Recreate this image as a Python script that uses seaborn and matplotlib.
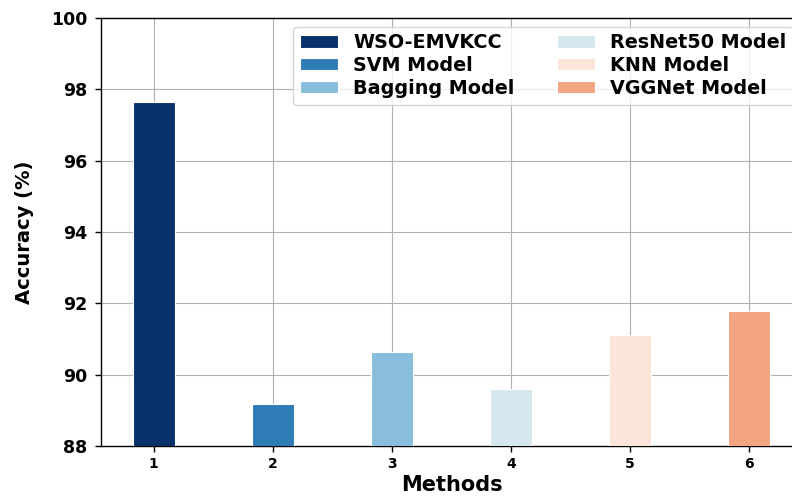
import matplotlib
matplotlib.use("Agg")
import matplotlib.pyplot as plt
import seaborn as sns
import pandas as pd

methods = ["1", "2", "3", "4", "5", "6"]
models = ["WSO-EMVKCC", "SVM Model", "Bagging Model", "ResNet50 Model", "KNN Model", "VGGNet Model"]
accuracy = [97.65, 89.18, 90.64, 89.60, 91.11, 91.79]
colors = ["#08306b", "#2e7bb6", "#88bedc", "#d6e7f0", "#fbe4d8", "#f3a582"]

df = pd.DataFrame({"Methods": methods, "Model": models, "Accuracy": accuracy})

sns.set_style("white")
plt.rcParams["font.family"] = ["DejaVu Sans"]
plt.rcParams["text.color"] = "black"
plt.rcParams["axes.labelcolor"] = "black"
plt.rcParams["xtick.color"] = "black"
plt.rcParams["ytick.color"] = "black"

fig = plt.figure(figsize=(7.92, 4.97), dpi=100)
ax = fig.add_axes([101/792, 1-446/497, 701/792, (446-18)/497])

sns.barplot(data=df, x="Methods", y="Accuracy", hue="Model", hue_order=models,
            palette=colors, saturation=1, dodge=False, width=0.35, edgecolor="white",
            linewidth=0.8, ax=ax, zorder=3)

ax.set_ylim(88, 100)
ax.set_xlim(-0.4425, 5.4425)
ax.set_yticks([88, 90, 92, 94, 96, 98, 100])
ax.grid(True, color="#b0b0b0", linewidth=0.8, zorder=0)
ax.set_axisbelow(True)
for s in ax.spines.values():
    s.set_color("black")
    s.set_linewidth(1.0)
ax.tick_params(axis="both", which="both", direction="out", length=4.5, width=1, color="black",
               left=True, bottom=True)
ax.tick_params(axis="y", pad=5.5)
for lbl in ax.get_yticklabels():
    lbl.set_fontsize(12.5)
    lbl.set_fontweight("bold")
for lbl in ax.get_xticklabels():
    lbl.set_fontsize(10)
    lbl.set_fontweight("bold")
ax.set_xlabel("Methods", fontsize=15, fontweight="bold", labelpad=2.5)
ax.set_ylabel("Accuracy (%)", fontsize=14, fontweight="bold", labelpad=12)

leg = ax.legend(loc="upper right", ncol=2, prop={"weight": "bold", "size": 13.8},
                frameon=True, handlelength=2.0, handleheight=0.6, labelspacing=0.2,
                borderpad=0.35, borderaxespad=0.45, columnspacing=2.2)
leg.get_frame().set_edgecolor("#cccccc")

fig.savefig("out.png", dpi=100)
